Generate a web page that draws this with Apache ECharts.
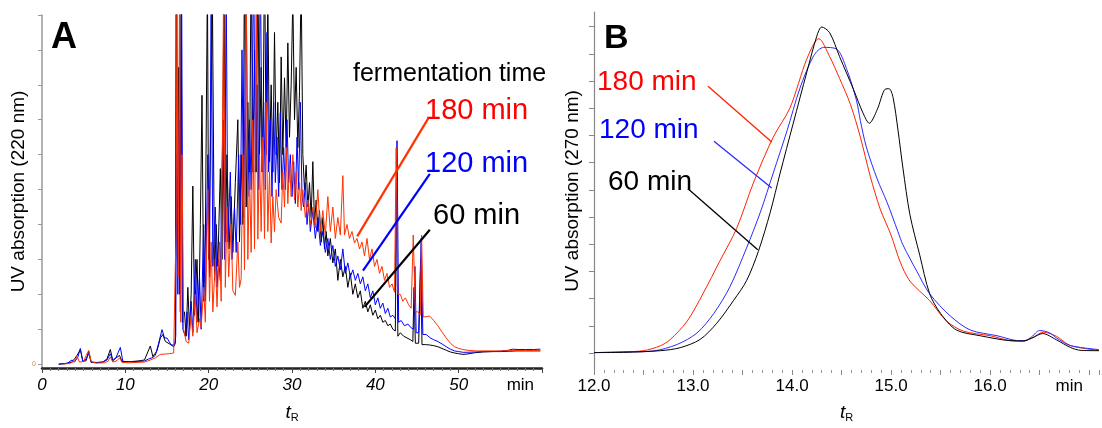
<!DOCTYPE html>
<html>
<head>
<meta charset="utf-8">
<script src="https://cdn.jsdelivr.net/npm/echarts@6/dist/echarts.min.js"></script>
<style>
html, body { margin: 0; padding: 0; background: #fff; }
#chart { width: 1102px; height: 428px; }
</style>
</head>
<body>
<div id="chart"></div>
<script>
// panel A: UV 220 nm, [tR (min), signal]
const a60 = [[2,0],[2.8,0.2],[3.5,0.5],[3.9,1.5],[4.2,2.5],[4.6,4.2],[4.9,0.8],[5.3,1],[5.6,3.8],[5.9,0.5],[6.5,0.4],[7.3,0.6],[7.8,1.5],[8.2,4.2],[8.5,1],[8.9,1.8],[9.3,2.5],[9.6,0.8],[10.5,0.7],[11.5,0.9],[12.3,1.2],[12.7,3.5],[13.0,5.2],[13.3,2.2],[13.8,3.8],[14.2,7.5],[14.5,8.5],[14.8,6.5],[15.3,5.8],[15.8,5],[16.0,6],[16.1,120],[16.25,30],[16.4,85],[16.55,20],[16.7,110],[16.85,12],[17.1,15],[17.3,8],[17.5,22],[17.7,10],[17.9,20],[18.1,51],[18.3,14],[18.6,30],[18.8,12],[19.0,40],[19.2,77],[19.4,18],[19.6,35],[19.85,110],[20.0,30],[20.2,60],[20.45,105],[20.7,24],[20.9,40],[21.1,28],[21.4,56],[21.6,30],[21.85,115],[22.0,35],[22.2,60],[22.45,33],[22.7,48],[22.9,32],[23.2,52],[23.5,70],[23.7,35],[23.9,60],[24.1,40],[24.3,115],[24.5,45],[24.7,75],[24.9,50],[25.1,120],[25.3,55],[25.5,90],[25.7,55],[25.9,115],[26.1,60],[26.3,85],[26.5,55],[26.7,120],[26.9,60],[27.1,105],[27.3,58],[27.5,80],[27.7,55],[27.9,95],[28.1,60],[28.3,75],[28.5,52],[28.7,88],[28.9,60],[29.1,82],[29.3,62],[29.5,92],[29.7,65],[29.9,80],[30.1,105],[30.3,70],[30.5,85],[30.7,62],[30.9,78],[31.1,110],[31.3,60],[31.5,50],[31.7,57],[31.9,45],[32.1,52],[32.3,42],[32.5,58],[32.7,40],[32.9,47],[33.1,38],[33.3,44],[33.5,35],[33.7,42],[33.9,33],[34.1,38],[34.3,31],[34.6,36],[34.9,29],[35.2,33],[35.5,24],[35.8,30],[36.1,25],[36.4,28],[36.7,22],[37.0,26],[37.3,20],[37.6,23],[37.9,19],[38.2,21],[38.5,16],[38.8,18],[39.1,15],[39.4,17],[39.7,14],[40.0,15.5],[40.3,13],[40.6,14],[40.9,12],[41.2,12.5],[41.5,11],[41.8,11.5],[42.1,10],[42.4,9.5],[42.55,60],[42.7,8],[43.0,9],[43.4,8],[43.8,7.5],[44.2,7],[44.5,6.5],[44.65,22],[44.8,6],[45.2,6],[45.45,30],[45.6,5.6],[46,5.6],[46.5,5.5],[47,5.3],[47.5,5],[48,4.5],[48.5,4],[49,3.5],[49.5,3.2],[50,3],[50.5,2.8],[51,2.9],[52,3.3],[53,3.5],[54,3.6],[55,3.6],[56,3.7],[57,3.8],[58,3.8],[59,3.8],[59.8,3.8]]
const a120 = [[2,0],[3,0.2],[3.6,1.2],[3.9,0.6],[4.3,2],[4.6,4.5],[4.9,0.8],[5.3,1.5],[5.6,3],[5.9,0.6],[6.5,0.5],[7.3,0.6],[7.8,1.2],[8.2,3],[8.5,1],[8.9,2],[9.4,4.8],[9.7,0.8],[10.5,0.7],[11.5,0.8],[12.3,0.9],[12.8,1.5],[13.2,1.8],[13.6,2.5],[14.0,6],[14.4,9.9],[14.7,7.5],[15.0,7.5],[15.5,5.5],[15.9,5.5],[16.05,8],[16.15,60],[16.3,20],[16.45,70],[16.6,15],[16.75,115],[16.9,10],[17.2,8],[17.4,15],[17.6,7],[17.9,18],[18.1,9],[18.4,30],[18.6,12],[18.9,25],[19.1,10],[19.4,40],[19.6,18],[19.9,60],[20.1,25],[20.3,110],[20.5,28],[20.8,45],[21.0,22],[21.2,30],[21.4,24],[21.7,70],[21.9,30],[22.1,110],[22.3,35],[22.6,55],[22.8,30],[23.1,45],[23.3,32],[23.6,60],[23.8,40],[24.0,90],[24.2,42],[24.5,110],[24.7,48],[24.9,70],[25.1,50],[25.4,115],[25.6,55],[25.8,80],[26.0,50],[26.2,118],[26.4,55],[26.6,75],[26.8,50],[27.0,95],[27.2,55],[27.4,70],[27.6,48],[27.8,75],[28.0,52],[28.2,65],[28.4,48],[28.6,72],[28.8,50],[29.0,62],[29.2,50],[29.4,70],[29.6,52],[29.8,60],[30.0,48],[30.2,58],[30.4,46],[30.6,65],[30.8,50],[31.0,75],[31.2,48],[31.4,45],[31.6,52],[31.8,40],[32.0,46],[32.2,38],[32.5,44],[32.8,36],[33.1,42],[33.4,34],[33.7,38],[34.0,32],[34.3,36],[34.6,30],[34.9,34],[35.2,28],[35.5,31],[35.8,27],[36.1,33],[36.4,26],[36.7,29],[37.0,25],[37.3,27],[37.6,24],[37.9,26],[38.2,23],[38.5,25],[38.8,21],[39.1,23],[39.4,19],[39.7,21],[40.0,17],[40.3,19],[40.6,16],[40.9,17.5],[41.2,14.5],[41.5,16],[41.8,13.5],[42.1,14],[42.4,13],[42.6,64],[42.8,12],[43.1,12.5],[43.5,11],[43.9,11.5],[44.3,10.4],[44.6,10],[44.75,28],[44.9,9],[45.2,9],[45.5,36],[45.7,8.5],[46.1,8.5],[46.6,7.5],[47,7],[47.5,6.5],[48,5.8],[48.5,5],[49,4.3],[49.5,3.8],[50,3.6],[50.5,3.4],[51,3.4],[52,3.5],[53,3.6],[54,3.6],[55,3.7],[56,4],[56.5,4.3],[57,4.2],[58,4.2],[59,4.2],[59.8,4.3]]
const a180 = [[2.5,0],[3.3,0.2],[3.9,0.8],[4.2,2.3],[4.5,0.6],[5.0,0.8],[5.3,2.5],[5.6,3.9],[5.9,0.8],[6.5,0.3],[7.5,0.4],[7.9,0.8],[8.2,2],[8.5,0.6],[9.0,1],[9.3,1.8],[9.6,0.5],[10.5,0.4],[11.5,0.5],[12.3,0.6],[13.0,1.2],[13.6,1.8],[14.2,2.8],[14.8,2.9],[15.3,3],[15.8,3.2],[16.0,3.5],[16.1,40],[16.2,110],[16.35,25],[16.5,105],[16.65,12],[16.8,60],[17.0,10],[17.3,6.5],[17.6,6],[17.9,14],[18.1,8],[18.4,20],[18.6,9],[18.9,13],[19.1,10.4],[19.4,22],[19.6,12],[19.9,50],[20.1,18],[20.3,35],[20.5,15],[20.8,30],[21.0,16.4],[21.3,35],[21.5,18],[21.8,110],[22.0,22],[22.2,45],[22.4,25],[22.7,40],[22.9,21],[23.2,19.7],[23.5,35],[23.7,22],[23.9,24.5],[24.1,60],[24.3,27],[24.5,115],[24.7,30],[24.9,55],[25.1,32],[25.3,70],[25.5,33],[25.7,105],[25.9,35.8],[26.1,60],[26.3,38],[26.5,65],[26.7,36],[26.9,75],[27.1,38],[27.3,55],[27.5,34.7],[27.7,48],[27.9,38],[28.1,50],[28.4,42],[28.7,40.4],[28.9,55],[29.1,45],[29.3,62],[29.5,46],[29.7,58],[29.9,48],[30.1,60],[30.3,47],[30.5,55],[30.7,45],[30.9,52],[31.1,44],[31.3,50],[31.6,42],[31.9,47],[32.2,40],[32.5,45],[32.8,39],[33.1,50],[33.4,38],[33.7,44],[34.0,37],[34.3,48],[34.6,38],[34.9,45],[35.2,36],[35.5,42],[35.8,37],[36.1,54],[36.3,37],[36.6,40],[36.9,36],[37.2,38],[37.5,34.7],[37.8,36],[38.1,33],[38.4,35],[38.7,31],[39.0,36],[39.3,30],[39.6,33],[39.9,28],[40.2,30],[40.5,26],[40.8,28],[41.1,24],[41.4,26],[41.7,22],[42.0,23],[42.3,20.6],[42.5,62],[42.7,20],[43.0,20],[43.3,18],[43.6,19],[44.0,17],[44.3,16],[44.55,37],[44.8,15],[45.1,15],[45.4,14],[45.55,37],[45.75,13.5],[46.1,13.6],[46.5,13.8],[47,12.5],[47.5,11],[48,9.2],[48.5,7.5],[49,6],[49.5,5],[50,4.5],[50.5,4.2],[51,4],[52,3.8],[53,3.8],[54,3.8],[55,3.8],[56,3.9],[57,3.9],[58,3.9],[59,3.9],[59.8,3.9]]

// panel B: UV 270 nm, [tR (min), signal]
const b60 = [[12.0,0.02],[12.3,0.03],[12.67,0.09],[12.87,0.2],[13.07,0.5],[13.24,1.1],[13.41,1.94],[13.54,2.66],[13.66,3.74],[13.78,5.18],[13.88,6.62],[14.01,8.42],[14.15,10.34],[14.25,11.65],[14.30,11.99],[14.38,11.78],[14.48,10.9],[14.62,9.7],[14.72,8.8],[14.78,8.45],[14.86,8.95],[14.94,9.7],[14.98,9.72],[15.02,9.4],[15.07,8.2],[15.12,6.8],[15.19,5.1],[15.29,3.6],[15.39,2.18],[15.5,1.46],[15.66,0.85],[15.9,0.64],[16.2,0.46],[16.33,0.45],[16.42,0.55],[16.53,0.72],[16.67,0.49],[16.81,0.21],[16.92,0.1],[17.1,0.09]]
const b120 = [[12.0,0.02],[12.3,0.04],[12.6,0.08],[12.84,0.32],[13.04,0.74],[13.21,1.46],[13.37,2.42],[13.54,3.86],[13.68,5.18],[13.81,6.62],[13.95,8.18],[14.08,9.74],[14.22,10.94],[14.32,11.24],[14.45,11.18],[14.55,10.46],[14.65,9.3],[14.69,8.55],[14.75,7.58],[14.86,6.4],[14.96,5.54],[15.07,4.46],[15.12,3.98],[15.26,3.01],[15.39,2.18],[15.6,1.36],[15.8,0.85],[16.07,0.64],[16.27,0.46],[16.35,0.45],[16.42,0.6],[16.5,0.83],[16.6,0.75],[16.67,0.56],[16.81,0.28],[17.1,0.13]]
const b180 = [[12.0,0.02],[12.3,0.05],[12.5,0.09],[12.67,0.27],[12.77,0.5],[12.94,1.17],[13.10,2.18],[13.27,3.38],[13.44,4.58],[13.61,6.26],[13.81,7.94],[13.98,9.02],[14.15,10.82],[14.27,11.56],[14.38,10.9],[14.48,10.1],[14.59,9.14],[14.69,7.94],[14.79,6.5],[14.89,5.3],[15.0,4.34],[15.09,3.37],[15.19,2.65],[15.39,1.93],[15.56,1.18],[15.73,0.81],[16.0,0.64],[16.2,0.46],[16.33,0.44],[16.42,0.55],[16.54,0.77],[16.67,0.62],[16.81,0.28],[17.1,0.1]]

// tick / label positions
const xLabelsA = [0, 10, 20, 30, 40, 50, 57.4]   // last one carries "min"
const yTicksA = [0, 10, 20, 30, 40, 50, 60, 70, 80, 90, 100]
const xLabelsB = [12, 13, 14, 15, 16, 16.8]      // last one carries "min"
const yTicksB = [0, 1, 2, 3, 4, 5, 6, 7, 8, 9, 10, 11, 12]

// leader lines from labels to curves, [from, to] in data coords
const leadA = { red: [[37.83, 36.6], [46.35, 70.4]], blue: [[38.52, 26.8], [46.54, 54.5]], black: [[38.71, 16.4], [46.54, 38.5]] }
const leadB = { red: [[13.152, 9.81], [13.795, 7.76]], blue: [[13.212, 7.79], [13.795, 6.07]], black: [[12.949, 6.04], [13.654, 3.80]] }

const FONT = '"Liberation Sans", Arial, sans-serif'
const COL = { black: '#000000', blue: '#0000ff', red: '#ff3300' }

function lead(pair, color, width) {
    return {
        silent: true,
        symbol: 'none',
        animation: false,
        label: { show: false },
        lineStyle: { color: color, width: width, type: 'solid' },
        data: [[{ coord: pair[0] }, { coord: pair[1] }]]
    }
}

function trace(data, color, idx, pair, leadWidth, smooth) {
    return {
        type: 'line',
        data: data,
        xAxisIndex: idx,
        yAxisIndex: idx,
        showSymbol: false,
        clip: true,
        smooth: smooth,
        lineStyle: { color: color, width: 1 },
        markLine: lead(pair, color, leadWidth)
    }
}

const tR = {
    t: { fontStyle: 'italic', fontSize: 19, fontFamily: FONT, color: '#000' },
    r: { fontSize: 11, fontFamily: FONT, color: '#000', padding: [10, 0, 0, 0] }
}

const chart = echarts.init(document.getElementById('chart'))
const option = {
    animation: false,
    backgroundColor: '#fff',
    grid: [
        { left: 42, top: 15, width: 500, bottom: 54 },
        { left: 594, top: 12, right: 3, bottom: 50 }
    ],
    xAxis: [
        {
            gridIndex: 0, type: 'value', min: 0, max: 60, interval: 10,
            axisLine: { onZero: false, lineStyle: { color: '#222', width: 2.5 } },
            axisTick: { length: 5, lineStyle: { color: '#444' } },
            minorTick: { show: true, splitNumber: 10, length: 3, lineStyle: { color: '#777' } },
            splitLine: { show: false },
            axisLabel: {
                customValues: xLabelsA, margin: 9, fontSize: 17, fontStyle: 'italic',
                fontFamily: FONT, color: '#000',
                formatter: v => v > 55 ? '{m|min}' : String(v),
                rich: { m: { fontSize: 17, fontStyle: 'normal', fontFamily: FONT, color: '#000' } }
            },
            name: '{t|t}{r|R}', nameLocation: 'middle', nameGap: 34,
            nameTextStyle: { rich: tR }
        },
        {
            gridIndex: 1, type: 'value', min: 12, max: 17.1, interval: 0.5,
            axisLine: { show: false, onZero: false },
            axisTick: { length: 5, lineStyle: { color: '#888' } },
            minorTick: { show: true, splitNumber: 5, length: 3, lineStyle: { color: '#999' } },
            splitLine: { show: false },
            axisLabel: {
                customValues: xLabelsB, margin: 8, fontSize: 17,
                fontFamily: FONT, color: '#000',
                formatter: v => v > 16.5 ? 'min' : v.toFixed(1)
            },
            name: '{t|t}{r|R}', nameLocation: 'middle', nameGap: 32,
            nameTextStyle: { rich: tR }
        }
    ],
    yAxis: [
        {
            gridIndex: 0, type: 'value', min: -1.1, max: 100,
            axisLine: { show: true, onZero: false, lineStyle: { color: '#999', width: 1.5 } },
            axisTick: { show: true, customValues: yTicksA, length: 4, lineStyle: { color: '#999' } },
            splitLine: { show: false },
            axisLabel: { customValues: [0], fontSize: 7, color: '#c09050', margin: 6, fontFamily: FONT },
            name: 'UV absorption (220 nm)', nameLocation: 'middle', nameGap: 14,
            nameTextStyle: { fontSize: 19, fontFamily: FONT, color: '#000' }
        },
        {
            gridIndex: 1, type: 'value', min: -0.62, max: 12.54,
            axisLine: { show: true, onZero: false, lineStyle: { color: '#888', width: 1.2 } },
            axisTick: { show: true, customValues: yTicksB, length: 5, lineStyle: { color: '#888' } },
            splitLine: { show: false },
            axisLabel: { show: false },
            name: 'UV absorption (270 nm)', nameLocation: 'middle', nameGap: 12,
            nameTextStyle: { fontSize: 19, fontFamily: FONT, color: '#000' }
        }
    ],
    series: [
        trace(a60, COL.black, 0, leadA.black, 2.2, false),
        trace(a120, COL.blue, 0, leadA.blue, 2.2, false),
        trace(a180, COL.red, 0, leadA.red, 2.2, false),
        trace(b180, '#ff2200', 1, leadB.red, 1.3, 0.3),
        trace(b120, '#2a2aff', 1, leadB.blue, 1.3, 0.3),
        trace(b60, COL.black, 1, leadB.black, 1.3, 0.3)
    ],
    graphic: [
        { type: 'text', left: 51, top: 20, style: { text: 'A', font: 'bold 36px ' + FONT, fill: '#000' } },
        { type: 'text', left: 604, top: 22, style: { text: 'B', font: 'bold 34px ' + FONT, fill: '#000' } },
        { type: 'text', left: 353, top: 62, style: { text: 'fermentation time', font: '25px ' + FONT, fill: '#000' } },
        { type: 'text', left: 425, top: 96, style: { text: '180 min', font: '29px ' + FONT, fill: '#ff0000' } },
        { type: 'text', left: 425, top: 149, style: { text: '120 min', font: '29px ' + FONT, fill: '#0000ff' } },
        { type: 'text', left: 433, top: 201, style: { text: '60 min', font: '29px ' + FONT, fill: '#000' } },
        { type: 'text', left: 597, top: 68, style: { text: '180 min', font: '28px ' + FONT, fill: '#ff0000' } },
        { type: 'text', left: 599, top: 116, style: { text: '120 min', font: '28px ' + FONT, fill: '#0000ff' } },
        { type: 'text', left: 608, top: 168, style: { text: '60 min', font: '28px ' + FONT, fill: '#000' } }
    ]
}
chart.setOption(option)
window.addEventListener('resize', () => {
    chart.resize()
})
</script>
</body>
</html>
